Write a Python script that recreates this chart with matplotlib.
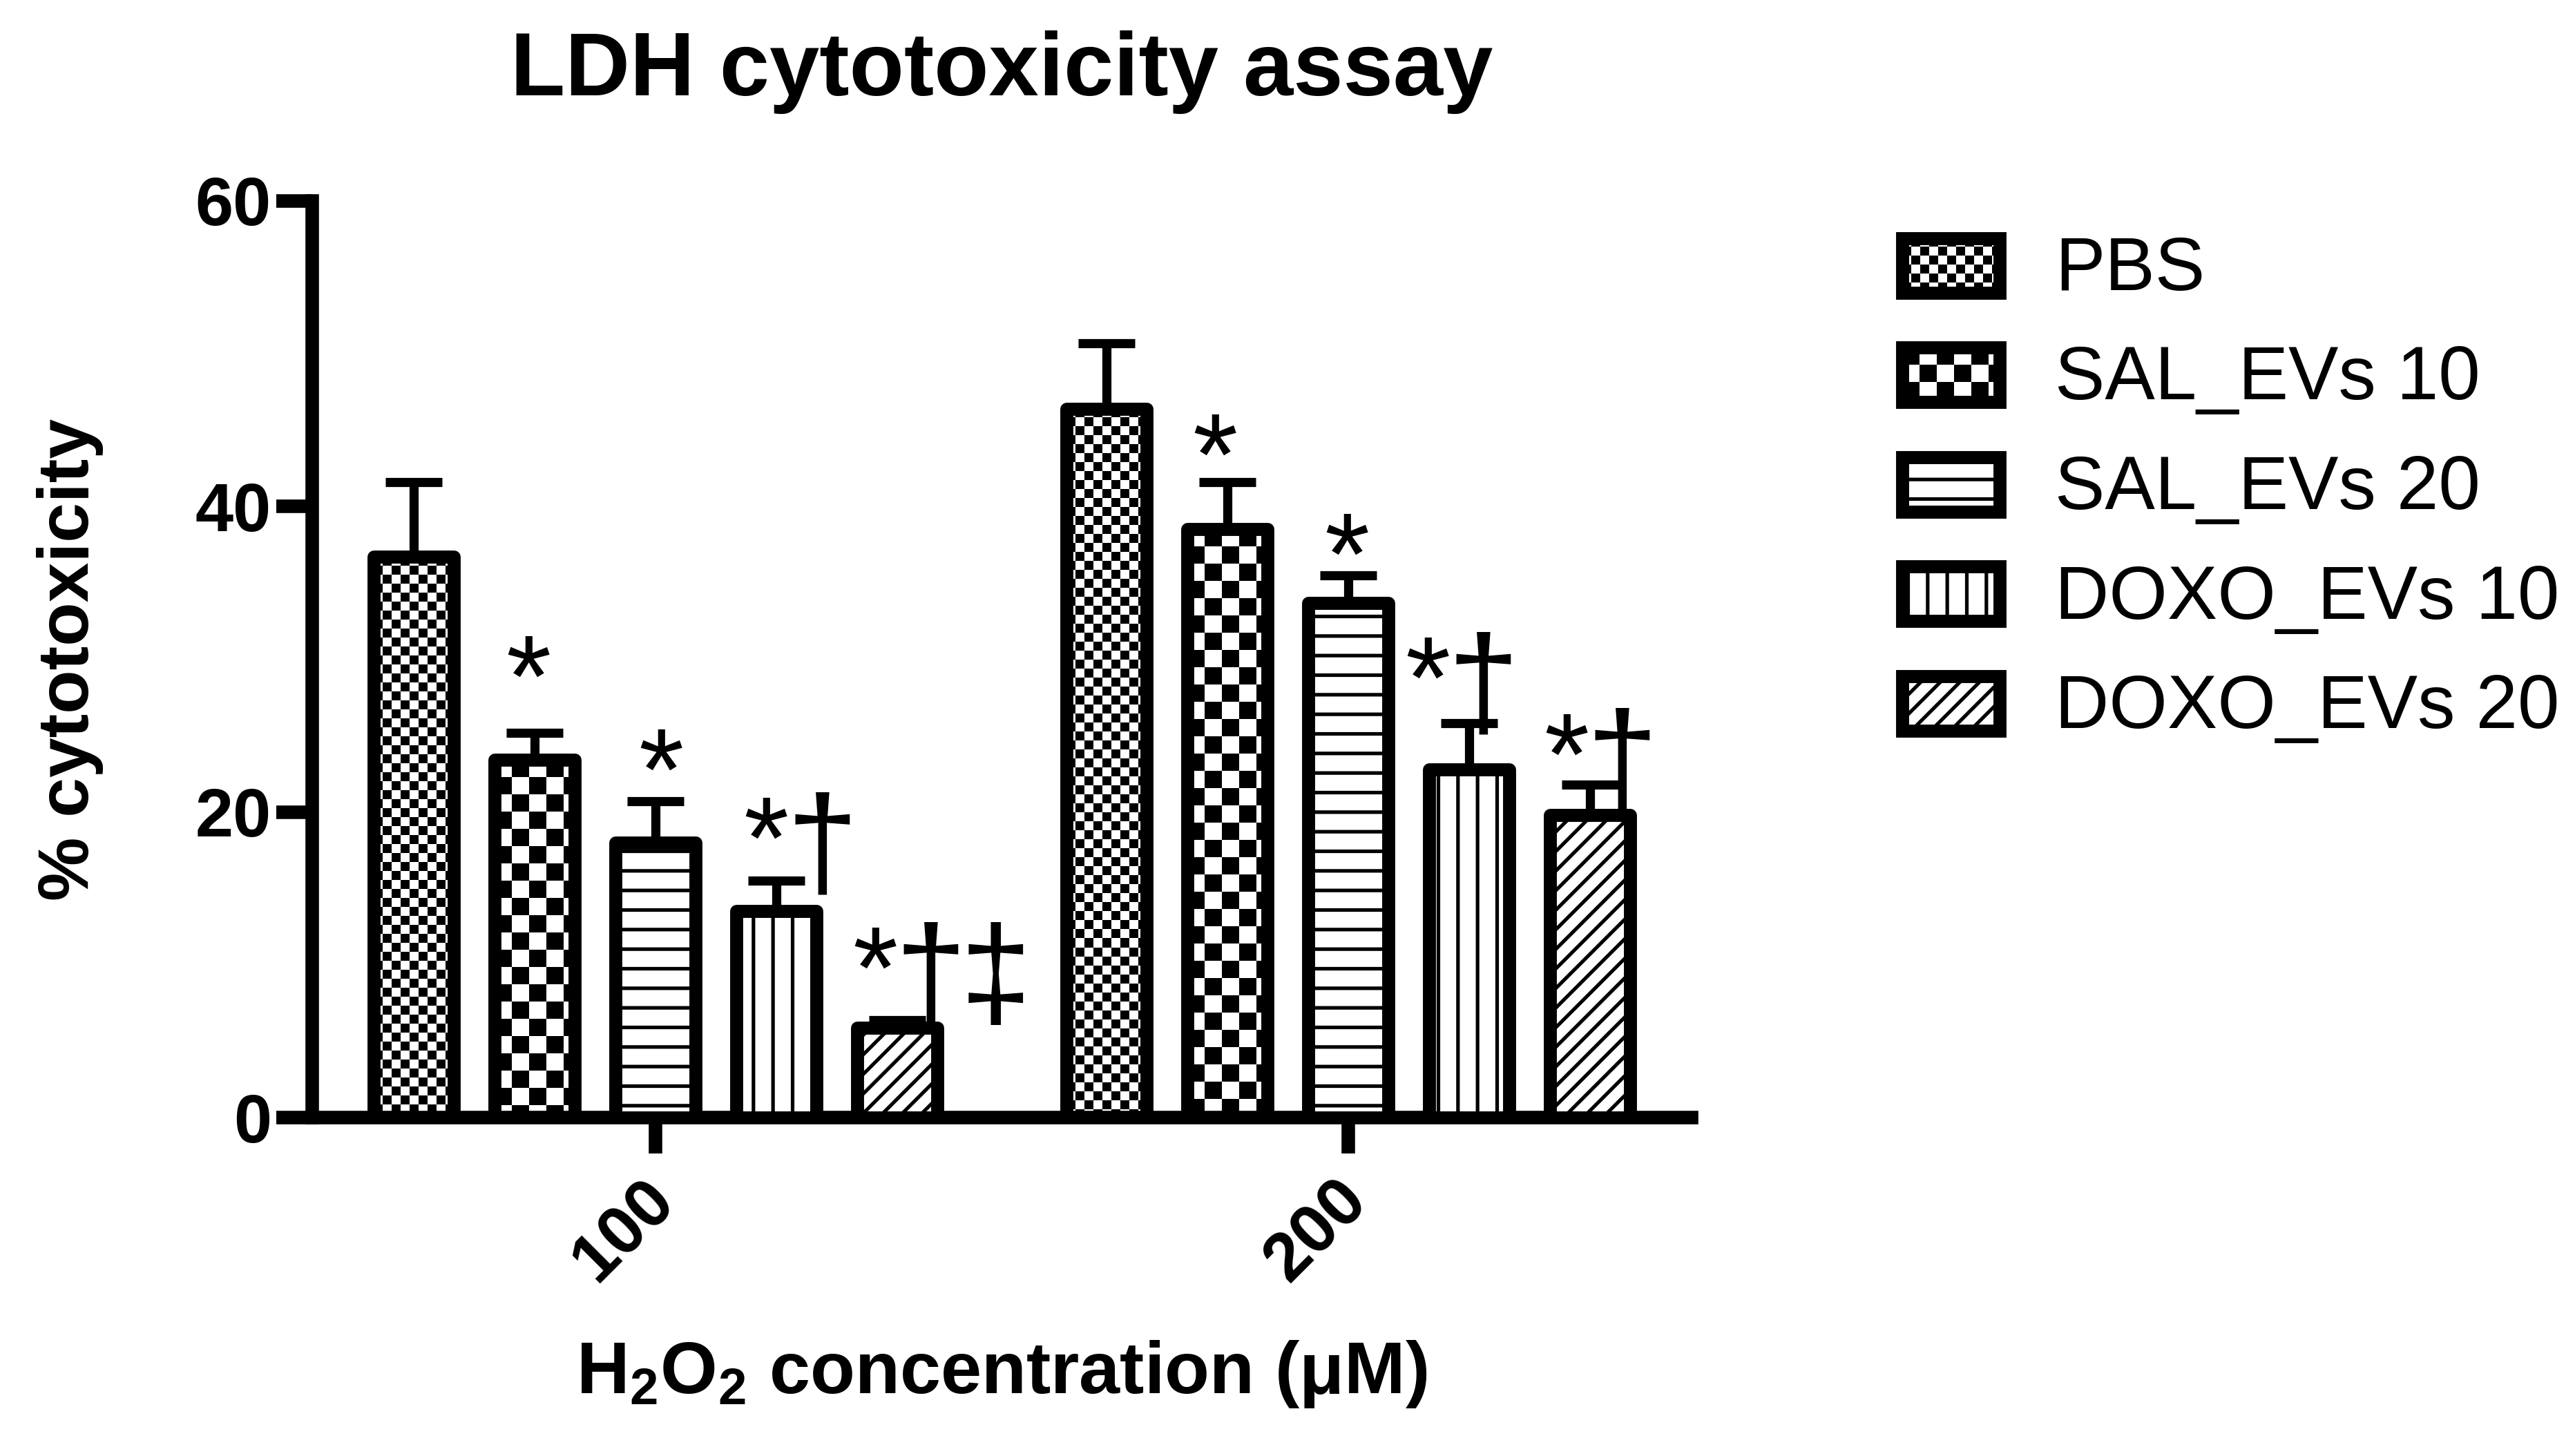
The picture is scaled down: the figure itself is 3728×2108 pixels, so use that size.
import numpy as np
import matplotlib
matplotlib.use("Agg")
import matplotlib.pyplot as plt
from matplotlib.patches import Rectangle
from matplotlib.transforms import ScaledTranslation

# ---------------- data ----------------
concentrations = ["100", "200"]
groups = ["PBS", "SAL_EVs 10", "SAL_EVs 20", "DOXO_EVs 10", "DOXO_EVs 20"]
mean_100 = [36.7, 23.4, 18.0, 13.5, 5.9]
mean_200 = [46.4, 38.5, 33.7, 22.8, 19.8]
err_100 = [4.9, 1.8, 2.7, 2.0, 0.5]
err_200 = [4.3, 3.1, 1.8, 3.0, 2.0]
sig_100 = ["", "*", "*", "*\u2020", "*\u2020\u2021"]
sig_200 = ["", "*", "*", "*\u2020", "*\u2020"]
sig_y_100 = [np.nan, 26.3, 20.2, 15.7, 7.2]
sig_y_200 = [np.nan, 40.8, 34.3, 26.2, 21.2]
yticks = [0, 20, 40, 60]

# ---------------- layout / style ----------------
W, H, DPI = 3729, 2108, 170
GROUP_GAP = 5.73
BAR_W = 0.66
EDGE_LW = 8.0
SPINE_LW = 8.3
sig_dx_100 = [0, -0.24, -0.14, -0.27, -0.37]
sig_dx_200 = [0, -0.29, -0.20, -0.53, -0.38]
SYM_OFFSETS_PT = [0, 26, 66]   # horizontal offset of each symbol in a label
styles = [("checker", 13), ("checker", 25), ("hatch", "-"), ("hatch", "|"), ("hatch", "//")]

plt.rcParams["font.family"] = ["Liberation Sans", "DejaVu Sans"]
plt.rcParams["font.weight"] = "bold"
plt.rcParams["axes.labelweight"] = "bold"
plt.rcParams["mathtext.fontset"] = "custom"
plt.rcParams["mathtext.rm"] = "Liberation Sans:bold"
plt.rcParams["mathtext.bf"] = "Liberation Sans:bold"
plt.rcParams["mathtext.it"] = "Liberation Sans:bold"
plt.rcParams["mathtext.default"] = "bf"
plt.rcParams["hatch.linewidth"] = 2.2
plt.rcParams["hatch.color"] = "black"

fig = plt.figure(figsize=(W / DPI, H / DPI), dpi=DPI)
fig.patch.set_facecolor("white")

ax_left, ax_right, ax_bottom, ax_top = 0.1212, 0.6567, 0.2324, 0.8620
ax = fig.add_axes([ax_left, ax_bottom, ax_right - ax_left, ax_top - ax_bottom])
XLIM = (-2.84, 8.57)
YLIM = (0, 60)
ax.set_xlim(*XLIM)
ax.set_ylim(*YLIM)


def checker_fill(a, patch, cell_px, zorder):
    x0, y0 = patch.get_x(), patch.get_y()
    w, h = patch.get_width(), patch.get_height()
    (px0, py0), (px1, py1) = a.transData.transform([(x0, y0), (x0 + w, y0 + h)])
    sx = w / (px1 - px0)
    sy = h / (py1 - py0)
    ncol = int(np.ceil((px1 - px0) / cell_px)) + 1
    nrow = int(np.ceil((py1 - py0) / cell_px)) + 1
    board = np.indices((nrow, ncol)).sum(axis=0) % 2
    im = a.imshow(board, cmap="gray", vmin=0, vmax=1, interpolation="nearest",
                  origin="lower", aspect="auto", zorder=zorder,
                  extent=(x0, x0 + ncol * cell_px * sx, y0 + h - nrow * cell_px * sy, y0 + h))
    im.set_clip_path(patch)
    return im


means = np.array([mean_100, mean_200])
errs = np.array([err_100, err_200])
sigs = [sig_100, sig_200]
sig_ys = [sig_y_100, sig_y_200]
sig_dxs = [sig_dx_100, sig_dx_200]
n = len(groups)
xc = np.arange(len(concentrations)) * GROUP_GAP

for i, name in enumerate(groups):
    xs = xc + (i - (n - 1) / 2)
    kind, val = styles[i]
    if kind == "checker":
        bars = ax.bar(xs, means[:, i], BAR_W, facecolor="none", edgecolor="black",
                      linewidth=EDGE_LW, joinstyle="round", zorder=3)
        for b in bars:
            checker_fill(ax, b, val, zorder=2)
    else:
        bars = ax.bar(xs, means[:, i], BAR_W, facecolor="white", edgecolor="black",
                      hatch=val, linewidth=EDGE_LW, joinstyle="round", zorder=3)
    ax.errorbar(xs, means[:, i], yerr=[np.zeros(len(xs)), errs[:, i]], fmt="none",
                ecolor="black", elinewidth=5.6, capsize=17.4, capthick=5.6, zorder=2.6)
    for g in range(len(concentrations)):
        lab = sigs[g][i]
        for k, ch in enumerate(lab):
            if ch == "*":
                fs, dy = 71, 0
            else:
                fs, dy = 79, -5
            ax.annotate(ch, xy=(xs[g] + sig_dxs[g][i], sig_ys[g][i]),
                        xytext=(SYM_OFFSETS_PT[k], dy), textcoords="offset points",
                        fontsize=fs, family=["Liberation Sans"], fontweight="normal",
                        ha="left", va="baseline", zorder=6, annotation_clip=False)

ax.set_xlim(*XLIM)
ax.set_ylim(*YLIM)

# spines / ticks
for s in ["top", "right"]:
    ax.spines[s].set_visible(False)
for s in ["left", "bottom"]:
    ax.spines[s].set_linewidth(SPINE_LW)
ax.set_yticks(yticks)
ax.set_xticks(xc, concentrations)
ax.tick_params(axis="both", width=SPINE_LW, length=22, labelsize=42, direction="out")
ax.tick_params(axis="y", pad=3)
ax.tick_params(axis="x", pad=4)
shift = ScaledTranslation(-8 / 72, -5 / 72, fig.dpi_scale_trans)
for lab in ax.get_xticklabels():
    lab.set_rotation(45)
    lab.set_ha("right")
    lab.set_rotation_mode("anchor")
    lab.set_transform(lab.get_transform() + shift)

ax.set_title("LDH cytotoxicity assay", fontsize=55, fontweight="bold", y=1.1153, pad=0)
ax.set_xlabel("H$_\\mathbf{2}$O$_\\mathbf{2}$ concentration (\u03bcM)", fontsize=45,
              fontweight="bold")
ax.xaxis.label.set_va("baseline")
ax.xaxis.set_label_coords(0.5, -0.3007)
ax.set_ylabel("% cytotoxicity", fontsize=44, fontweight="bold")
ax.yaxis.label.set_va("baseline")
ax.yaxis.set_label_coords(-0.162, 0.5)

# ---------------- legend (drawn in figure pixel space) ----------------
lax = fig.add_axes([0, 0, 1, 1])
lax.set_xlim(0, W)
lax.set_ylim(0, H)
lax.axis("off")
lax.patch.set_visible(False)
LEG_X, LEG_Y0, LEG_DY = 2754.5, 384, 158.5
BOX_W, BOX_H = 141, 79
TXT_X = 2975
for k, name in enumerate(groups):
    yc = H - (LEG_Y0 + k * LEG_DY)
    kind, val = styles[k]
    if kind == "checker":
        r = Rectangle((LEG_X, yc - BOX_H / 2), BOX_W, BOX_H, facecolor="none",
                      edgecolor="black", linewidth=EDGE_LW, zorder=3)
        lax.add_patch(r)
        checker_fill(lax, r, val, zorder=2)
    else:
        r = Rectangle((LEG_X, yc - BOX_H / 2), BOX_W, BOX_H, facecolor="white",
                      edgecolor="black", linewidth=EDGE_LW, hatch=val, zorder=3)
        lax.add_patch(r)
    lax.text(TXT_X, yc - 36, name, fontsize=46, fontweight="normal",
             ha="left", va="baseline")
lax.set_xlim(0, W)
lax.set_ylim(0, H)

fig.savefig("out.png", dpi=DPI, facecolor="white")
